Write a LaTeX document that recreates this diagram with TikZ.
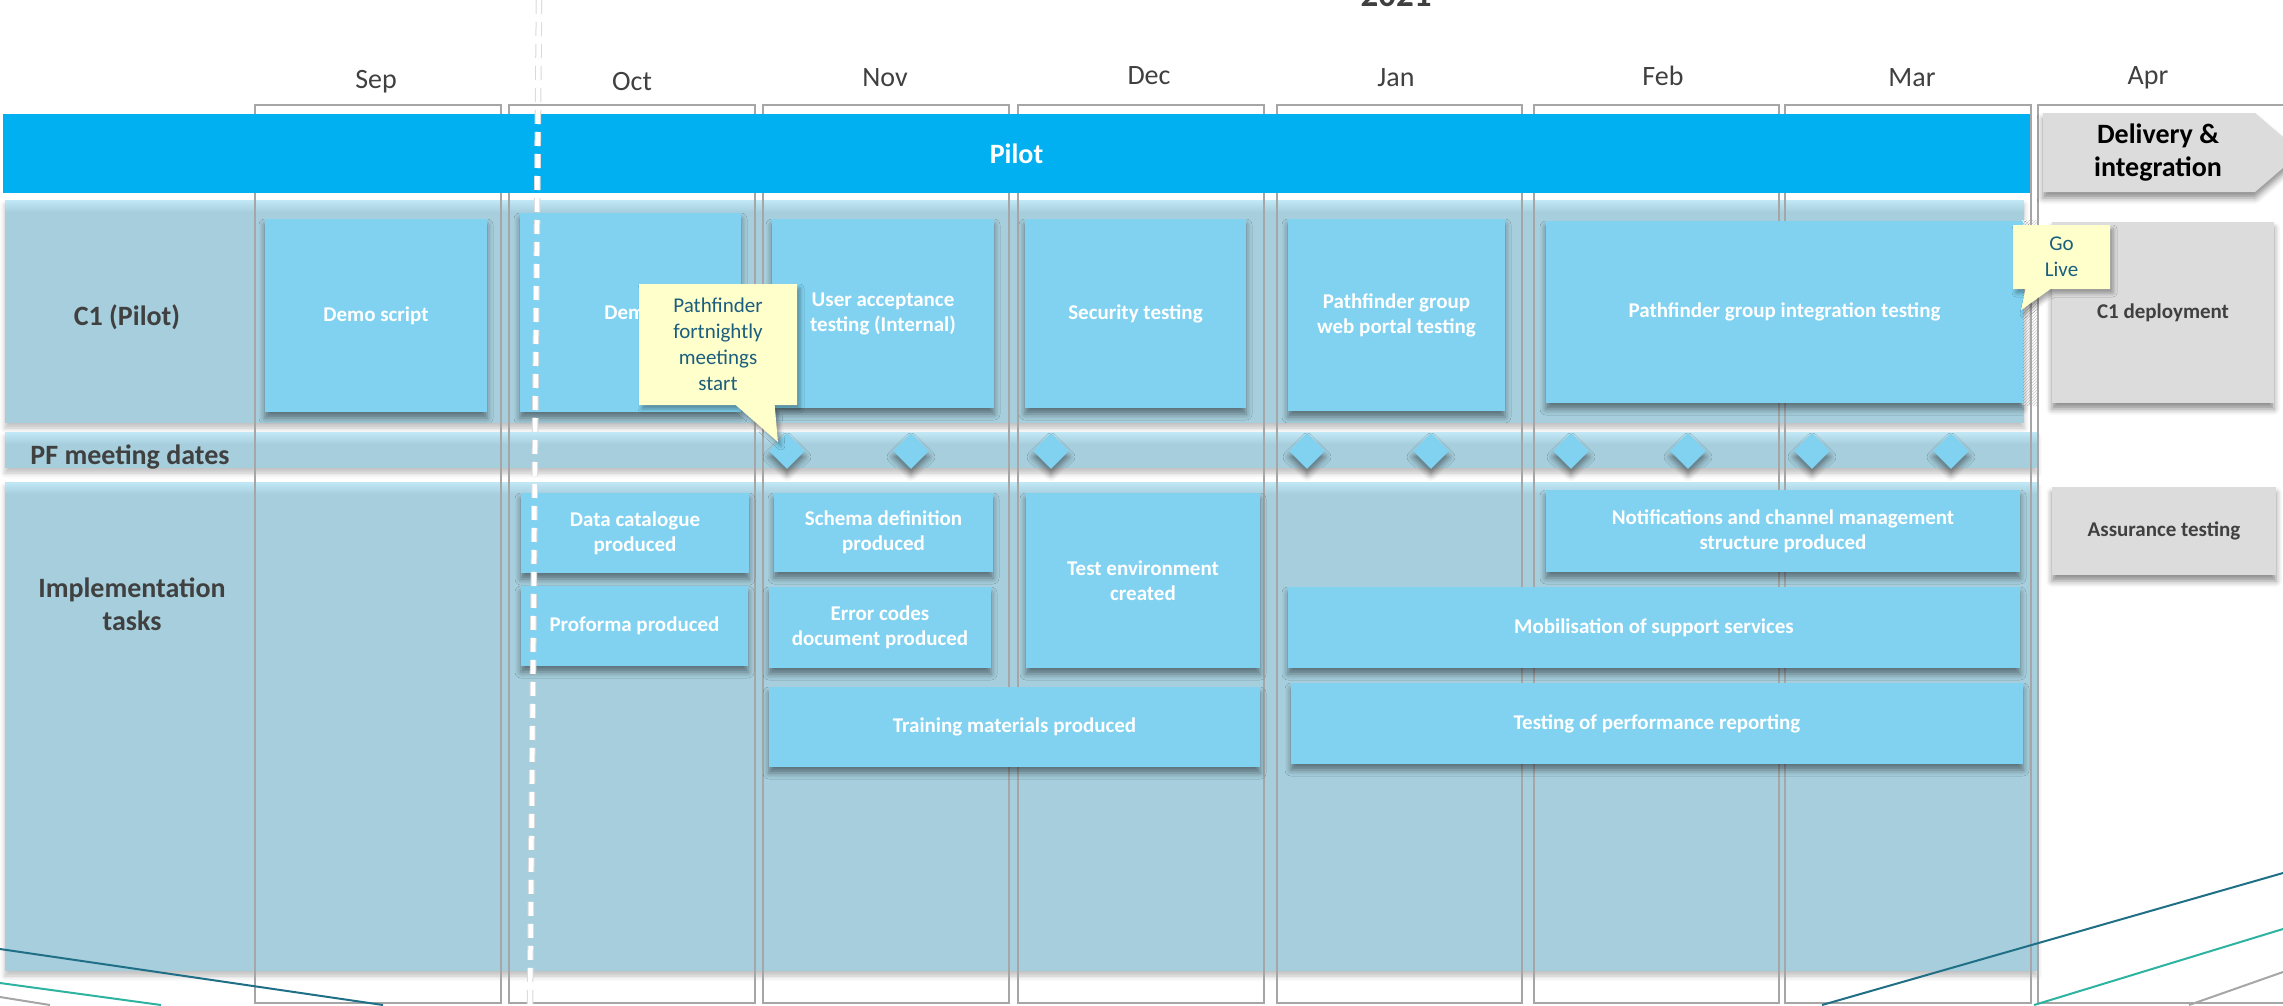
\documentclass[tikz,border=0pt]{standalone}
\usepackage{fontspec}
\setmainfont{Carlito}
\usetikzlibrary{shapes.geometric,shapes.callouts,shadows.blur,patterns}

\definecolor{pilotblue}{HTML}{00B0F0}
\definecolor{bandblue}{HTML}{A6CEDC}
\definecolor{bandtop}{HTML}{C2E8F6}
\definecolor{taskblue}{HTML}{80D2F0}
\definecolor{greyfill}{HTML}{DCDCDC}
\definecolor{labelgrey}{HTML}{404040}
\definecolor{notefill}{HTML}{FFFFCC}
\definecolor{notetext}{HTML}{1B5E7E}
\definecolor{monthline}{HTML}{A6A6A6}
\definecolor{darkteal}{HTML}{1F6F86}
\definecolor{tealgreen}{HTML}{2DB3A0}

\newcommand\headfnt{\fontsize{28}{33}\selectfont}
\newcommand\taskfnt{\fontsize{21}{25}\selectfont}

\tikzset{
  softshadow/.style = {blur shadow={shadow xshift=0pt, shadow yshift=-6pt,
                       shadow blur radius=6pt, shadow opacity=45}},
  bandrow/.style    = {fill=bandblue, blur shadow={shadow xshift=0pt,
                       shadow yshift=-5pt, shadow blur radius=5pt,
                       shadow opacity=25}},
  monthcol/.style   = {draw=monthline, line width=1.5pt},
  monthlabel/.style = {font=\headfnt, text=labelgrey},
  rowlabel/.style   = {font=\headfnt\bfseries, text=labelgrey, align=center},
  pilotbar/.style   = {fill=pilotblue, text=white, font=\headfnt\bfseries,
                       minimum width=2027pt, minimum height=79pt},
  taskbox/.style    = {fill=taskblue, text=white, font=\taskfnt\bfseries,
                       align=center, inner sep=0pt, softshadow},
  greybox/.style    = {taskbox, fill=greyfill, text=labelgrey},
  meetdot/.style    = {diamond, fill=taskblue, minimum width=36pt,
                       minimum height=36pt, inner sep=0pt, softshadow},
  stickynote/.style = {rectangle callout, fill=notefill, text=notetext,
                       font=\fontsize{21}{26}\selectfont, align=center,
                       inner sep=0pt, blur shadow={shadow xshift=3pt,
                       shadow yshift=-4pt, shadow blur radius=4pt,
                       shadow opacity=35}},
}

\begin{document}
\begin{tikzpicture}[x=1pt, y=-1pt]
\useasboundingbox (0,0) rectangle (2283,1005);

\foreach \x/\y/\X/\Y in {5/200/2024/423, 5/432/2037/468, 5/482/2037/971} {
  \fill[bandrow] (\x,\y) rectangle (\X,\Y);
  \shade[top color=bandtop, bottom color=bandblue] (\x,\y) rectangle (\X,\y+12);
}

\fill[white] (2022,220) rectangle (2038,405);
\fill[pattern=north east lines, pattern color=gray!45] (2022,220) rectangle (2038,405);

\foreach \x/\w in {255/246, 509/246, 763/246, 1018/246, 1277/245, 1534/245, 1785/246, 2038/260}
  \draw[monthcol] (\x,105) rectangle ++(\w,898);

\foreach \m/\x/\y in {Sep/376/82, Oct/632/82, Nov/885/78, Dec/1149/76,
                      Jan/1396/78, Feb/1663/76, Mar/1912/78, Apr/2148/78}
  \node[monthlabel] (\m) at (\x,\y) {\m};
\node[font=\fontsize{35}{40}\selectfont\bfseries, text=labelgrey, anchor=base] (year) at (1396,6) {2021};

\node[pilotbar] (pilot) at (1016.5,153.5) {Pilot};
\fill[greyfill, softshadow] (2043,113) -- (2255,113) -- (2301,152.5) -- (2255,192) -- (2043,192) -- cycle;
\node[font=\headfnt\bfseries, text=black, align=center] (delivery) at (2158,153) {Delivery \&\\integration};

\node[rowlabel] (c1)   at (127,317) {C1 (Pilot)};
\node[rowlabel] (pf)   at (130,457) {PF meeting dates};
\node[rowlabel] (impl) at (132,604) {Implementation\\tasks};

\node[taskbox, minimum width=222pt, minimum height=193pt] (demoscript) at (376,315.5)    {Demo script};
\node[taskbox, minimum width=221pt, minimum height=199pt] (demo)       at (630.5,312.5)  {Demo};
\node[taskbox, minimum width=222pt, minimum height=189pt] (uat)        at (883,313.5)    {User acceptance\\testing (Internal)};
\node[taskbox, minimum width=221pt, minimum height=189pt] (sectest)    at (1135.5,313.5) {Security testing};
\node[taskbox, minimum width=217pt, minimum height=192pt] (portal)     at (1396.5,315)   {Pathfinder group\\web portal testing};
\node[taskbox, minimum width=477pt, minimum height=182pt] (integ)      at (1784.5,312)   {Pathfinder group integration testing};
\node[greybox, minimum width=222pt, minimum height=181pt] (deploy)     at (2163,312.5)   {C1 deployment};

\node[taskbox, minimum width=228pt, minimum height=80pt] (datacat)  at (635,533)      {Data catalogue\\produced};
\node[taskbox, minimum width=227pt, minimum height=80pt] (proforma) at (634.5,626)    {Proforma produced};
\node[taskbox, minimum width=219pt, minimum height=79pt] (schema)   at (883.5,532.5)  {Schema definition\\produced};
\node[taskbox, minimum width=222pt, minimum height=81pt] (errcodes) at (880,627.5)    {Error codes\\document produced};
\node[taskbox, minimum width=234pt, minimum height=175pt] (testenv) at (1143,580.5)   {Test environment\\created};
\node[taskbox, minimum width=491pt, minimum height=80pt] (training) at (1014.5,727)   {Training materials produced};
\node[taskbox, minimum width=474pt, minimum height=82pt] (notif)    at (1783,531)     {Notifications and channel management\\structure produced};
\node[taskbox, minimum width=732pt, minimum height=81pt] (mobil)    at (1654,627.5)   {Mobilisation of support services};
\node[taskbox, minimum width=732pt, minimum height=81pt] (perf)     at (1657,723.5)   {Testing of performance reporting};
\node[greybox, minimum width=224pt, minimum height=88pt] (assur)    at (2164,531)     {Assurance testing};

\foreach \x [count=\i] in {787,911,1051,1307,1431,1571,1688,1812,1951}
  \node[meetdot] (d\i) at (\x,451) {};

\draw[darkteal, line width=2pt]  (0,949) -- (383,1005);
\draw[tealgreen, line width=2pt] (0,983) -- (161,1005);
\draw[monthline, line width=2pt] (0,997) -- (50,1005);
\draw[darkteal, line width=2pt]  (1822,1005) -- (2283,873);
\draw[tealgreen, line width=2pt] (2034,1005) -- (2283,929);
\draw[monthline, line width=2pt] (2189,1005) -- (2283,972);

\coordinate (cuttop) at (539,0);
\coordinate (cutbot) at (530,1005);
\draw[gray!30, line width=6.5pt, dash pattern=on 14pt off 8pt] (cuttop) -- (cutbot);
\draw[white, line width=4.5pt, dash pattern=on 14pt off 8pt] (cuttop) -- (cutbot);

\coordinate (golivetip) at (2021,310);
\node[stickynote, minimum width=158pt, minimum height=121pt, callout pointer width=39pt,
      callout absolute pointer={(d1.north west)}] (pfstart) at (718,344.5)
      {Pathfinder\\fortnightly\\meetings\\start};
\node[stickynote, minimum width=97pt, minimum height=64pt, callout pointer width=25pt,
      callout absolute pointer={(golivetip)}] (golive) at (2061.5,257) {Go\\Live};
\end{tikzpicture}
\end{document}
